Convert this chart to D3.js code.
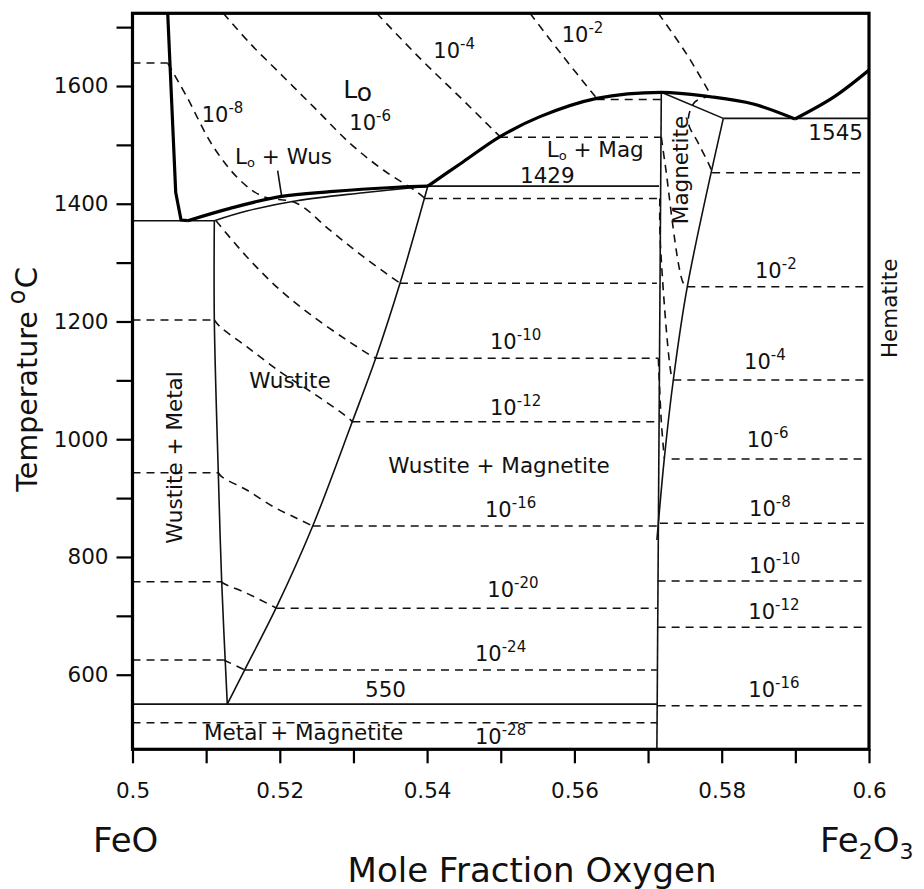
<!DOCTYPE html>
<html><head><meta charset="utf-8">
<script src="https://cdn.jsdelivr.net/npm/d3@7"></script>
<style>body{margin:0;background:#fff}</style>
</head><body>
<svg id="c" width="924" height="889"></svg>
<script>
// ---------- axes ----------
const xDomain = [0.5, 0.6];
const yDomain = [473.3, 1723.5];
const xTickValues = [0.5,0.51,0.52,0.53,0.54,0.55,0.56,0.57,0.58,0.59,0.6];
const xTickLabels = ["0.5","","0.52","","0.54","","0.56","","0.58","","0.6"];
const yTickValues = [600,700,800,900,1000,1100,1200,1300,1400,1500,1600,1700];
const yTickLabels = ["600","","800","","1000","","1200","","1400","","1600",""];

// ---------- thick liquidus curves [moleFraction, T] ----------
const liquidusFeO = [[0.50478,1723.5],[0.50587,1419],[0.50659,1372.4],[0.5075,1371.2]];
const liquidusWus = [[0.5075,1371.2],[0.51324,1392.2],[0.52003,1412],[0.52682,1420.5],[0.53587,1428],[0.5401,1430]];
const liquidusMag = [[0.5401,1430],[0.54487,1471],[0.5499,1514],[0.55533,1548],[0.56303,1579],[0.57185,1589.3],[0.57841,1581.8],[0.58429,1569.4],[0.58995,1544]];
const liquidusHem = [[0.58995,1544],[0.5952,1581],[0.6,1627]];

// ---------- thin phase boundaries ----------
const wusUpper = [[0.51111,1371.2],[0.51551,1387.7],[0.52229,1405.2],[0.53134,1418.8],[0.5401,1430]];
const wusLeft  = [[0.51111,1371.2],[0.51111,1202.5],[0.51165,942.6],[0.51211,758],[0.51287,550]];
const wusRight = [[0.5401,1430],[0.53632,1264.8],[0.53302,1137.5],[0.52984,1029.8],[0.52447,852.6],[0.51958,715.5],[0.51527,609.2],[0.51287,550]];
const magRight = [[0.5712,828.8],[0.57221,967.6],[0.57343,1100.6],[0.57533,1259.1],[0.58022,1545]];
const straightLines = [
  [[0.5,1371.2],[0.51111,1371.2]],     // wustite eutectic
  [[0.5,550],[0.5712,550]],            // 550
  [[0.5401,1430],[0.5715,1430]],       // 1429
  [[0.5712,473.3],[0.5718,1589.3]],    // magnetite left
  [[0.5718,1589.3],[0.58022,1545]],    // magnetite top
  [[0.58022,1545],[0.6,1545]]          // 1545
];

// ---------- oxygen isobars (dashed) ----------
const isoCurves = [
  [[0.50478,1639],[0.50532,1627],[0.50736,1582],[0.51097,1497],[0.5146,1440],[0.51776,1412],[0.52229,1401],[0.52681,1355],[0.53134,1310],[0.53632,1265]],
  [[0.51233,1723.5],[0.51595,1672.5],[0.52048,1615.8],[0.52501,1559.2],[0.52954,1502.6],[0.53405,1457.3],[0.53859,1420.5],[0.53971,1409]],
  [[0.53316,1723.5],[0.53904,1647],[0.54447,1581],[0.5499,1514]],
  [[0.55397,1723.5],[0.55849,1650],[0.56303,1579]],
  [[0.57139,1723.5],[0.5752,1655],[0.5786,1583]],
  [[0.5786,1583],[0.57637,1573],[0.57546,1539],[0.57682,1503],[0.57841,1463],[0.5787,1452.6]],
  [[0.5718,1513],[0.5723,1469],[0.57479,1265],[0.57533,1259]],
  [[0.5716,1409],[0.57165,1338],[0.57321,1106],[0.57343,1100.6]],
  [[0.5714,1137],[0.5718,1030],[0.57221,967.6]],
  [[0.51134,1371],[0.51551,1310],[0.52003,1253.5],[0.52455,1208.1],[0.52908,1168.6],[0.53225,1143],[0.53302,1137.5]],
  [[0.51111,1202.5],[0.51188,1191.1],[0.51551,1157.2],[0.52003,1114.7],[0.52455,1078],[0.52908,1038.3],[0.52984,1029.8]],
  [[0.51165,943],[0.51211,936.3],[0.51551,913.7],[0.51912,885.4],[0.52229,865.7],[0.52447,852.6]],
  [[0.51211,758],[0.51233,755.3],[0.51551,738.3],[0.51958,713]],
  [[0.5124,625],[0.5126,623.8],[0.51527,608]]
];
// horizontal isobars: [x0, x1, T]
const isoHorizontal = [
  [0.5,0.50478,1639],
  [0.53632,0.5712,1265],[0.53971,0.5715,1409],[0.5499,0.5718,1513],[0.56303,0.5718,1577],
  [0.53302,0.5714,1137.5],[0.52984,0.5713,1029.8],[0.52447,0.5713,852.6],[0.51958,0.5712,713],[0.51527,0.5712,608],
  [0.5,0.51111,1202.5],[0.5,0.51165,943],[0.5,0.51211,758],[0.5,0.5124,625],[0.5,0.5712,518.5],
  [0.5787,0.5996,1452.6],[0.57533,0.5996,1259.1],[0.57343,0.5996,1100.6],[0.5732,0.5996,966.4],
  [0.5716,0.5996,857.2],[0.5713,0.5996,759.2],[0.5713,0.5996,680.5],[0.5713,0.5996,547.3]
];

// ---------- isobar labels: [x, T, exponent] ----------
const powerLabels = [
  [0.5094,1539.4,"-8"],[0.52944,1525.3,"-6"],[0.54084,1647,"-4"],[0.55828,1674.2,"-2"],
  [0.54854,1152.7,"-10"],[0.54854,1041.1,"-12"],[0.54786,867.4,"-16"],[0.54817,732.5,"-20"],
  [0.5465,623.3,"-24"],[0.5465,481.8,"-28"],
  [0.58452,1273.3,"-2"],[0.58303,1118.8,"-4"],[0.5834,986.3,"-6"],[0.58371,869.6,"-8"],
  [0.58371,773.3,"-10"],[0.58361,694.1,"-12"],[0.58361,561.6,"-16"]
];
// plain labels: [x, T, text]
const plainLabels = [
  [0.55261,1435.8,"1429"],[0.59176,1508.3,"1545"],[0.53157,562.6,"550"],
  [0.51586,1086.5,"Wustite"],[0.53473,942.1,"Wustite + Magnetite"],[0.50971,489.1,"Metal + Magnetite"]
];
// rotated labels: [x(baseline), T(center), text]
const rotatedLabels = [
  [0.57542,1457.3,"Magnetite"],[0.60376,1222.4,"Hematite"],[0.50668,969,"Wustite + Metal"]
];
const pointerLine = [[0.51971,1456.1],[0.52026,1412]];

// ---------- drawing ----------
const svg = d3.select("#c");
const FONT = "DejaVu Sans, Verdana, sans-serif";
const L = 132.5, R = 869, T0 = 13.3, B = 749.3;
const x = d3.scaleLinear().domain(xDomain).range([L, R]);
const y = d3.scaleLinear().domain(yDomain).range([B, T0]);
const lineCurve = d3.line().x(d=>x(d[0])).y(d=>y(d[1])).curve(d3.curveCatmullRom.alpha(0.5));
const lineStraight = d3.line().x(d=>x(d[0])).y(d=>y(d[1]));

svg.append("defs").append("clipPath").attr("id","clip")
  .append("rect").attr("x",L).attr("y",T0).attr("width",R-L).attr("height",B-T0);
const plot = svg.append("g").attr("clip-path","url(#clip)");

// dashed isobars
const dashed = plot.append("g").attr("fill","none").attr("stroke","#111")
  .attr("stroke-width",1.6).attr("stroke-dasharray","8,6");
isoCurves.forEach(c => dashed.append("path").attr("d", lineCurve(c)));
isoHorizontal.forEach(h => dashed.append("path").attr("d", lineStraight([[h[0],h[2]],[h[1],h[2]]])));

// thin boundaries
const thin = plot.append("g").attr("fill","none").attr("stroke","#111").attr("stroke-width",1.6);
[wusUpper, wusLeft, wusRight, magRight].forEach(c => thin.append("path").attr("d", lineCurve(c)));
straightLines.forEach(c => thin.append("path").attr("d", lineStraight(c)));
thin.append("path").attr("d", lineStraight(pointerLine));

// thick liquidus
const thick = plot.append("g").attr("fill","none").attr("stroke","#000")
  .attr("stroke-width",3.2).attr("stroke-linejoin","round");
thick.append("path").attr("d", lineStraight(liquidusFeO));
[liquidusWus, liquidusMag, liquidusHem].forEach(c => thick.append("path").attr("d", lineCurve(c)));

// frame
svg.append("rect").attr("x",L).attr("y",T0).attr("width",R-L).attr("height",B-T0)
  .attr("fill","none").attr("stroke","#000").attr("stroke-width",3.2);

// axes
const yAxis = d3.axisLeft(y).tickValues(yTickValues).tickSize(16).tickPadding(8)
  .tickFormat((d,i)=>yTickLabels[i]);
const gy = svg.append("g").attr("transform",`translate(${L},0)`).call(yAxis);
const xAxis = d3.axisBottom(x).tickValues(xTickValues).tickSize(14).tickPadding(19)
  .tickFormat((d,i)=>xTickLabels[i]);
const gx = svg.append("g").attr("transform",`translate(0,${B})`).call(xAxis);
[gx, gy].forEach(g => {
  g.select(".domain").remove();
  g.selectAll(".tick line").attr("stroke","#000").attr("stroke-width",2.2);
  g.selectAll(".tick text").attr("font-family",FONT).attr("font-size",21.5).attr("fill","#111");
});

// labels
const lab = svg.append("g").attr("font-family",FONT).attr("fill","#111");
powerLabels.forEach(p => {
  const t = lab.append("text").attr("x",x(p[0])).attr("y",y(p[1])).attr("font-size",21);
  t.append("tspan").text("10");
  t.append("tspan").attr("font-size",15).attr("dy",-9).text(p[2]);
});
plainLabels.forEach(p => lab.append("text").attr("x",x(p[0])).attr("y",y(p[1]))
  .attr("font-size",21.5).text(p[2]));
rotatedLabels.forEach(p => lab.append("text")
  .attr("transform",`translate(${x(p[0])},${y(p[1])}) rotate(-90)`)
  .attr("text-anchor","middle").attr("font-size",21.5).text(p[2]));

// phase labels with subscripts
const lo = lab.append("text").attr("x",x(0.52862)).attr("y",y(1580.1)).attr("font-size",25);
lo.append("tspan").text("L");
lo.append("tspan").attr("dy",3).text("o");
function liqLabel(xv, tv, rest){
  const t = lab.append("text").attr("x",x(xv)).attr("y",y(tv)).attr("font-size",21.5);
  t.append("tspan").text("L");
  t.append("tspan").attr("font-size",13).attr("dy",3).text("o");
  t.append("tspan").attr("dy",-3).text(rest);
}
liqLabel(0.51392,1467," + Wus");
liqLabel(0.55624,1480," + Mag");

// axis titles
const yt = svg.append("text").attr("font-family",FONT).attr("fill","#111").attr("font-size",28.5)
  .attr("transform","translate(37,491.7) rotate(-90)");
yt.append("tspan").text("Temperature");
yt.append("tspan").attr("font-size",24).attr("dx",7).attr("dy",-12).text("o");
yt.append("tspan").attr("font-size",31).attr("dx",1).attr("dy",12).text("C");

svg.append("text").attr("font-family",FONT).attr("fill","#111").attr("font-size",34)
  .attr("x",93).attr("y",851.7).text("FeO");
const fe = svg.append("text").attr("font-family",FONT).attr("fill","#111").attr("font-size",34)
  .attr("x",820).attr("y",851.7);
fe.append("tspan").text("Fe");
fe.append("tspan").attr("font-size",22).attr("dy",7).text("2");
fe.append("tspan").attr("dy",-7).text("O");
fe.append("tspan").attr("font-size",22).attr("dy",7).text("3");
svg.append("text").attr("font-family",FONT).attr("fill","#111").attr("font-size",34)
  .attr("x",532).attr("y",881.7).attr("text-anchor","middle").text("Mole Fraction Oxygen");
</script>
</body></html>
